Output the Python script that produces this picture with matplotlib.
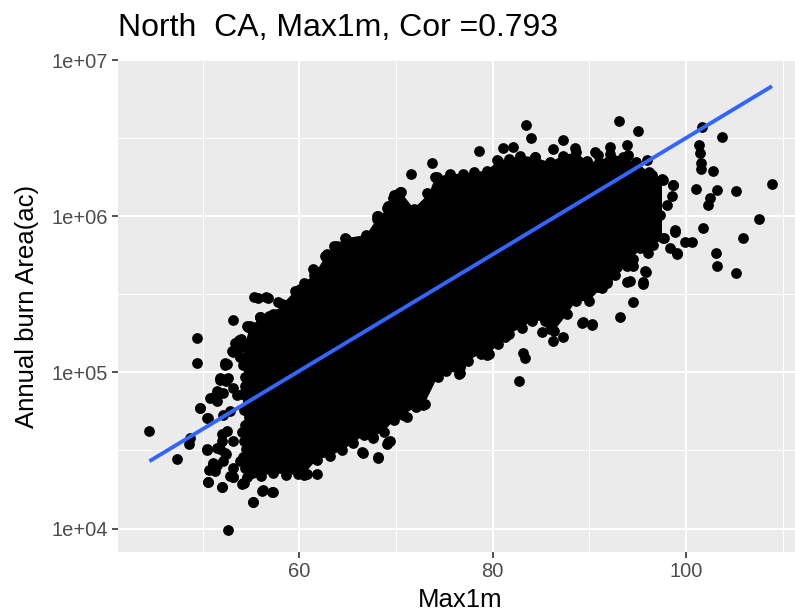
import numpy as np
import matplotlib
matplotlib.use("Agg")
import matplotlib.pyplot as plt
from matplotlib.ticker import FixedLocator, NullFormatter

plt.rcParams['font.family'] = ['Liberation Sans', 'DejaVu Sans']

# outermost points along the top of the cloud (Max1m, log10 area)
top_x = [51.97, 53.08, 53.98, 54.87, 55.99, 56.88, 57.33, 58.22, 59.56, 60.45, 61.57,
         62.69, 63.58, 64.70, 66.93, 68.05, 69.16, 69.83, 70.50, 71.84, 73.41, 74.08,
         75.64, 76.98, 78.09, 79.43, 80.55, 81.67, 82.78, 84.35, 85.91, 87.25, 88.59,
         89.71, 91.05, 92.16, 93.50, 94.84, 96.18, 97.52, 98.64]
top_log = [4.959, 5.139, 5.213, 5.287, 5.351, 5.361, 5.372, 5.435, 5.520, 5.573, 5.626,
           5.742, 5.806, 5.858, 5.880, 5.985, 6.049, 6.134, 6.155, 6.049, 6.144, 6.250,
           6.271, 6.271, 6.282, 6.292, 6.356, 6.366, 6.388, 6.377, 6.345, 6.388, 6.409,
           6.356, 6.345, 6.398, 6.377, 6.345, 6.282, 6.239, 6.197]

# outermost points along the bottom of the cloud
bot_x = [50.63, 51.52, 52.86, 54.20, 55.99, 57.33, 58.67, 60.45, 61.79, 63.13, 64.47,
         65.59, 66.71, 67.60, 68.72, 69.83, 70.73, 72.07, 72.96, 74.30, 75.19, 76.53,
         77.42, 78.76, 79.66, 80.55, 81.67, 83.01, 84.12, 85.46, 86.36, 87.70, 88.59,
         89.93, 91.27, 92.61, 93.95, 95.29, 96.63, 97.74, 98.86]
bot_log = [4.377, 4.409, 4.335, 4.293, 4.335, 4.356, 4.346, 4.346, 4.441, 4.462, 4.504,
           4.547, 4.600, 4.589, 4.621, 4.695, 4.726, 4.779, 4.800, 4.970, 5.012, 4.991,
           5.076, 5.118, 5.118, 5.181, 5.245, 5.287, 5.330, 5.330, 5.266, 5.372, 5.456,
           5.456, 5.541, 5.626, 5.689, 5.795, 5.816, 5.858, 5.901]

# points on the left flank of the cloud, bottom to top
left_x = [54.60, 54.40, 54.15, 54.45, 54.30, 54.05, 54.35, 54.25, 54.10, 54.40, 54.35,
          54.15, 54.50, 54.30]
left_log = [4.330, 4.390, 4.460, 4.510, 4.560, 4.620, 4.660, 4.760, 4.860, 4.910, 4.970,
            5.050, 5.100, 5.160]

# scattered years off the main body
out_x = [44.49, 47.32, 49.45, 49.45, 52.60, 53.12, 49.73, 50.60, 51.98, 55.18, 56.28,
         57.25, 54.28, 51.11, 51.28, 50.42, 48.63, 51.77, 52.46, 53.18, 50.77, 51.46,
         50.42, 51.77, 52.46, 52.32, 53.52, 53.86, 53.36, 55.10, 55.90, 54.55, 55.35,
         56.56, 57.66, 57.31, 59.92, 61.82, 51.98, 55.76, 56.80, 57.83, 55.94, 52.49,
         54.72, 60.08, 61.63, 62.84, 63.87, 64.83, 68.01, 69.21, 70.35, 66.97, 74.22,
         75.59, 70.42, 69.73, 69.04, 68.18, 61.45, 73.18,
         54.90, 55.94, 56.97, 53.80, 53.18, 53.87, 52.32, 51.80, 52.66, 53.18, 53.53,
         51.28, 49.73, 50.59, 51.46, 52.15, 52.15, 52.84, 52.49, 51.98, 53.18, 50.42,
         51.46, 52.32, 51.11, 52.15, 53.18, 53.87, 50.59, 51.98, 54.05, 53.18, 56.11,
         57.14, 55.24, 48.70,
         83.42, 83.94, 78.59, 73.70, 71.56, 93.11, 95.07, 101.63, 103.70, 101.30, 101.50,
         101.60, 101.60, 102.83, 101.04, 103.18, 102.49, 102.30, 105.18, 108.87, 101.80,
         107.60, 105.93, 103.11, 103.18, 105.18, 98.87, 99.90, 100.60, 97.66, 98.35,
         99.04, 96.63, 97.32, 98.70, 98.53, 98.00, 97.66, 96.46, 95.94, 92.15, 93.87,
         94.04, 92.15, 93.87, 90.60, 90.95, 87.31, 88.52, 86.28, 81.11, 82.14, 84.38,
         80.42, 94.56, 94.21, 95.60, 95.77, 91.11, 91.80, 89.39, 90.25, 93.18, 93.87,
         94.56, 95.07, 95.94, 96.28,
         82.76, 83.35, 83.18, 86.28, 87.25, 85.08, 85.94, 89.21, 90.25, 93.18, 93.94,
         95.53, 95.87, 90.95, 91.80, 76.63, 76.63, 79.39, 81.28, 92.83, 94.56, 96.11,
         99.04, 66.63, 68.18, 69.04, 69.39, 71.12, 72.83, 76.63, 67.66, 60.78, 66.48,
         68.18, 69.16]
out_log = [4.624, 4.448, 5.221, 5.063, 3.994, 5.337, 4.772, 4.300, 4.269, 4.173, 4.248,
           4.232, 4.290, 4.423, 4.370, 4.503, 4.539, 4.508, 4.476, 4.328, 4.836, 4.878,
           4.709, 4.963, 4.942, 5.058, 5.143, 5.100, 5.185, 5.291, 5.354, 5.300, 5.481,
           5.481, 5.375, 5.300, 4.349, 4.349, 4.561, 5.475, 5.475, 5.450, 5.354, 5.051,
           5.291, 5.534, 5.651, 5.756, 5.809, 5.851, 6.000, 6.063, 6.148, 5.873, 6.250,
           6.264, 6.152, 6.116, 6.053, 6.000, 5.661, 6.148,
           5.300, 5.354, 5.290, 5.206, 5.130, 5.100, 5.050, 4.952, 4.963, 4.899, 4.857,
           4.846, 4.772, 4.709, 4.815, 4.867, 4.730, 4.751, 4.624, 4.603, 4.561, 4.508,
           4.518, 4.486, 4.413, 4.434, 4.391, 4.434, 4.296, 4.269, 4.286, 4.328, 4.243,
           4.232, 4.169, 4.580,
           6.582, 6.502, 6.417, 6.338, 6.269, 6.607, 6.544, 6.571, 6.508, 6.455, 6.402,
           6.339, 6.300, 6.292, 6.175, 6.169, 6.116, 6.074, 6.163, 6.205, 5.926,
           5.983, 5.858, 5.763, 5.683, 5.634, 5.909, 5.837, 5.837, 5.858, 5.799,
           5.763, 5.915, 6.010, 6.201, 6.127, 6.074, 6.232, 6.264, 6.359, 6.444, 6.455,
           6.391, 6.349, 6.328, 6.413, 6.391, 6.486, 6.434, 6.427, 6.434, 6.444, 6.381,
           6.359, 5.450, 5.587, 5.577, 5.651, 5.556, 5.587, 5.323, 5.312, 5.704, 5.683,
           5.725, 5.820, 5.799, 5.852,
           4.946, 5.090, 5.121, 5.200, 5.227, 5.259, 5.280, 5.316, 5.305, 5.354, 5.581,
           5.566, 5.645, 5.545, 5.570, 5.037, 4.994, 5.111, 5.227, 5.672, 5.683, 5.767,
           5.756, 4.486, 4.455, 4.540, 4.561, 4.713, 4.794, 5.048, 4.582, 4.349, 4.493,
           4.461, 4.557]

# lm fit drawn by geom_smooth
fit_x = [44.5, 108.9]
fit_area = [2.7e4, 6.8e6]

fig = plt.figure(figsize=(7.95, 6.13), dpi=100)
ax = fig.add_axes([118 / 795, 61 / 613, 684 / 795, 492 / 613])
ax.set_facecolor('#EBEBEB')
for s in ax.spines.values():
    s.set_visible(False)

ax.set_yscale('log')
ax.set_xlim(41.25, 112.0)
ax.set_ylim(10 ** 3.85, 10 ** 7.0)

ax.xaxis.set_major_locator(FixedLocator([60, 80, 100]))
ax.xaxis.set_minor_locator(FixedLocator([50, 70, 90, 110]))
ax.yaxis.set_major_locator(FixedLocator([1e4, 1e5, 1e6, 1e7]))
ax.yaxis.set_minor_locator(FixedLocator([10 ** 4.5, 10 ** 5.5, 10 ** 6.5]))
ax.yaxis.set_minor_formatter(NullFormatter())
ax.set_yticklabels(['1e+04', '1e+05', '1e+06', '1e+07'])
ax.grid(which='major', color='white', lw=1.5)
ax.grid(which='minor', color='white', lw=0.75)
ax.set_axisbelow(True)
ax.tick_params(which='major', length=4, width=1.2, color='#333333',
               labelcolor='#4D4D4D', labelsize=14.5, pad=3)
ax.tick_params(which='minor', length=0)

# overplotted body of the cloud: polygon through the outer points
# (top edge left->right, bottom edge right->left, then up the left flank)
gx = np.union1d(top_x, bot_x)
gx = gx[(gx >= 54.6) & (gx <= 97.6)]
hi = np.interp(gx, top_x, top_log)
lo = np.interp(gx, bot_x, bot_log)
poly_x = np.concatenate([gx, gx[::-1], left_x])
poly_log = np.concatenate([hi, lo[::-1], left_log])
ax.fill(poly_x, 10 ** poly_log, color='black', lw=0, zorder=2)

ms = 60
for xs, ls in [(top_x, top_log), (bot_x, bot_log), (left_x, left_log), (out_x, out_log)]:
    ax.scatter(xs, 10 ** np.array(ls), s=ms, c='black', lw=0, zorder=3)

ax.plot(fit_x, fit_area, color='#3366FF', lw=2.8, zorder=4, solid_capstyle='butt')

ax.set_xlabel('Max1m', fontsize=18.5, labelpad=5)
ax.set_ylabel('Annual burn Area(ac)', fontsize=18.5, labelpad=9)
ax.set_title('North  CA, Max1m, Cor =0.793', fontsize=23, loc='left', pad=17)

fig.savefig('out.png', dpi=100)
